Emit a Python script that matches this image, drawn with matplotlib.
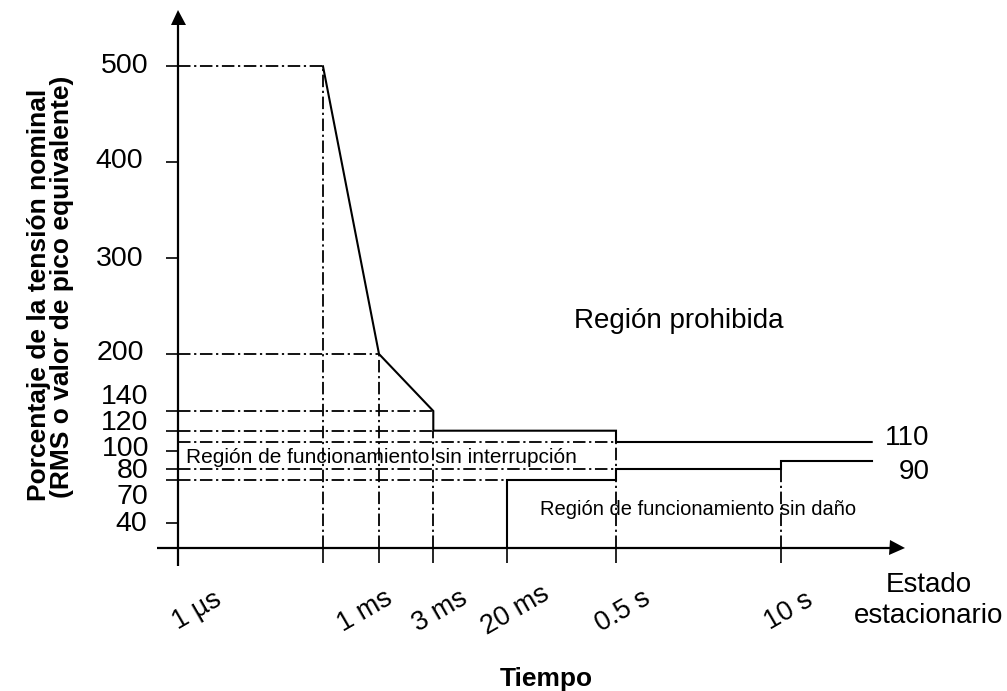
import numpy as np
import matplotlib
matplotlib.use("Agg")
import matplotlib.pyplot as plt

plt.rcParams['font.family'] = ['Liberation Sans', 'DejaVu Sans']
plt.rcParams['lines.scale_dashes'] = False

# ---------------- data ----------------
time_labels = ["1 µs", "", "1 ms", "3 ms", "20 ms", "0.5 s", "10 s"]
steady_label = ["Estado", "estacionario"]

# upper limit (time index, % of nominal voltage)
upper_t = [1, 2, 3, 3, 5, 5, 7]
upper_v = [500, 200, 140, 120, 120, 110, 110]
# lower limit
lower_t = [4, 4, 5, 5, 6, 6, 7]
lower_v = [0, 70, 70, 80, 80, 90, 90]

y_ticks = [40, 70, 80, 100, 120, 140, 200, 300, 400, 500]
y_tick_labels = ["40", "70", "80", "100", "120", "140", "200", "300", "400", "500"]

# dash-dot guide lines
h_guides_v = [500, 200, 140, 120, 110, 80, 70]
h_guides_t = [1, 2, 3, 3, 5, 5, 4]
v_guides_t = [1, 2, 3, 5, 6]
v_guides_v = [500, 200, 120, 110, 90]

end_labels = ["110", "90"]

# ---------------- layout (schematic axes) ----------------
W, H = 1007, 691
Y_VALS = [0, 40, 70, 80, 90, 100, 110, 120, 140, 200, 500, 800]
Y_PIX = [0, 24.2, 67.5, 78.5, 86.7, 96.8, 105.5, 116.8, 136.5, 193.5, 481.2, 768.9]
X_IDX = [0, 1, 2, 3, 4, 5, 6, 7, 8]
X_PIX = [0, 145, 201, 255.3, 328.7, 438, 602.7, 693.7, 793.7]

def yf(v):
    return np.interp(v, Y_VALS, Y_PIX)

def yi(p):
    return np.interp(p, Y_PIX, Y_VALS)

def xf(v):
    return np.interp(v, X_IDX, X_PIX)

def xi(p):
    return np.interp(p, X_PIX, X_IDX)

ox, oy = 178.0, 547.5        # origin in pixels (from top-left)
top_y = 9.3
right_x = 905.0
ax_w = right_x - ox
ax_h = oy - top_y

fig = plt.figure(figsize=(W / 100, H / 100), dpi=100)
ax = fig.add_axes([ox / W, (H - oy) / H, ax_w / W, ax_h / H])
ax.set_xscale('function', functions=(xf, xi))
ax.set_yscale('function', functions=(yf, yi))
ax.set_xlim(0, xi(ax_w))
ax.set_ylim(0, yi(ax_h))
for s in ax.spines.values():
    s.set_visible(False)
ax.patch.set_alpha(0)

def fx(px):
    return px / W

def fy(py):
    return (H - py) / H

DASH = (0, (9.0, 2.6, 1.6, 2.6))
gkw = dict(color='black', lw=1.3, linestyle=DASH, dash_capstyle='butt')

# guides
for v, t in zip(h_guides_v, h_guides_t):
    ax.plot([0, t], [v, v], **gkw)
for t, v in zip(v_guides_t, v_guides_v):
    ax.plot([t, t], [0, v], **gkw)

# limit curves
ax.plot(upper_t, upper_v, color='black', lw=1.5, solid_joinstyle='miter')
ax.plot(lower_t, lower_v, color='black', lw=1.5, solid_joinstyle='miter')

# axes with arrows
ax.plot([0, 0], [-18.5 / ax_h, 1 - 14 / ax_h], transform=ax.transAxes,
        color='black', lw=1.6, clip_on=False, solid_capstyle='butt')
ax.plot([0], [1 - 7.5 / ax_h], transform=ax.transAxes, marker='^', ms=10.8,
        mew=0, color='black', clip_on=False)
ax.plot([-21 / ax_w, 1 - 14 / ax_w], [0, 0], transform=ax.transAxes,
        color='black', lw=1.6, clip_on=False, solid_capstyle='butt')
ax.plot([1 - 7.5 / ax_w], [0], transform=ax.transAxes, marker='>', ms=10.8,
        mew=0, color='black', clip_on=False)

# ticks
ax.set_yticks(y_ticks)
ax.set_yticklabels([])
ax.minorticks_off()
ax.tick_params(axis='y', direction='out', length=8.6, width=1.2, color='black')
ax.set_xticks(range(1, len(time_labels)))
ax.set_xticklabels([])
ax.tick_params(axis='x', direction='out', length=10.8, width=1.2, color='black')

# y tick labels (schematic offsets in pixels: dx, dy up)
ylab_off = {"40": (3, -0.7), "70": (4, -16.7), "80": (5, -2), "100": (5, 1.2),
            "120": (4, 8), "140": (4, 14), "200": (0, 1.5), "300": (0, -0.8),
            "400": (-1, 1.4), "500": (5, 0)}
for v, lab in zip(y_ticks, y_tick_labels):
    dx, dy = ylab_off[lab]
    ax.annotate(lab, xy=(0, v), xycoords=('axes fraction', 'data'),
                xytext=(-34 + dx, dy), textcoords='offset pixels',
                ha='right', va='center', fontsize=20.5, annotation_clip=False)

# x tick labels (rotated)
xlab_off = [19, 0, -14, 6.7, 8.3, 7, 8.3]
for i, lab in enumerate(time_labels):
    if not lab:
        continue
    ax.annotate(lab, xy=(i, 0), xycoords=('data', 'axes fraction'),
                xytext=(xlab_off[i], -63.5), textcoords='offset pixels',
                ha='center', va='center', rotation=30, fontsize=19.5,
                annotation_clip=False)

# steady state label
fig.text(fx(928.5), fy(591.7), steady_label[0], ha='center', va='baseline', fontsize=20)
fig.text(fx(929), fy(622.7), steady_label[1], ha='center', va='baseline', fontsize=20)

# end value labels
fig.text(fx(929.5), fy(445), end_labels[0], ha='right', va='baseline', fontsize=20)
fig.text(fx(929.5), fy(479), end_labels[1], ha='right', va='baseline', fontsize=20)

# region labels
fig.text(fx(678.5), fy(328.3), "Región prohibida", ha='center', va='baseline', fontsize=20)
fig.text(fx(186.5), fy(463.3), "Región de funcionamiento sin interrupción",
         ha='left', va='baseline', fontsize=15)
fig.text(fx(539.5), fy(515), "Región de funcionamiento sin daño",
         ha='left', va='baseline', fontsize=14.5)

# axis titles
fig.text(fx(39.0), fy(295), "Porcentaje de la tensión nominal", rotation=90,
         ha='center', va='center', fontsize=19, fontweight='bold')
fig.text(fx(62.5), fy(287), "(RMS o valor de pico equivalente)", rotation=90,
         ha='center', va='center', fontsize=19, fontweight='bold')
fig.text(fx(546.7), fy(686), "Tiempo", ha='center', va='baseline',
         fontsize=19, fontweight='bold')

fig.savefig("out.png", dpi=100)
